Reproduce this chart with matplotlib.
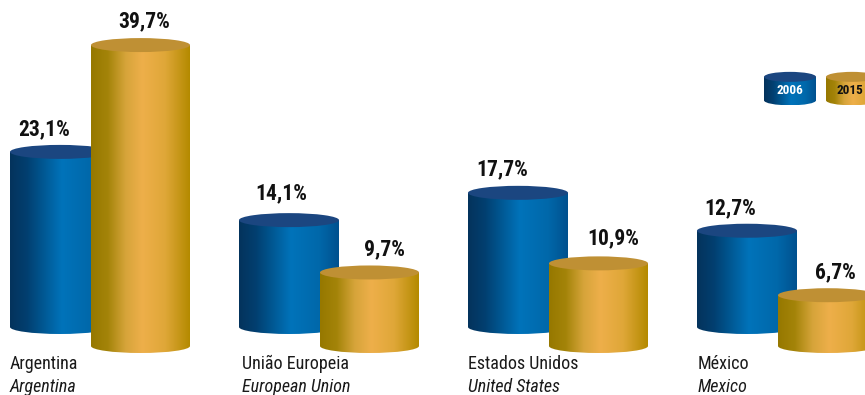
import matplotlib
matplotlib.use('Agg')
import matplotlib.pyplot as plt
import numpy as np
from matplotlib.colors import LinearSegmentedColormap
from matplotlib.patches import Ellipse, PathPatch
from matplotlib.path import Path

plt.rcParams['font.family'] = ['Roboto Condensed', 'Liberation Sans', 'DejaVu Sans']

names_pt = ['Argentina', 'União Europeia', 'Estados Unidos', 'México']
names_en = ['Argentina', 'European Union', 'United States', 'Mexico']
values_2006 = [23.1, 14.1, 17.7, 12.7]
values_2015 = [39.7, 9.7, 10.9, 6.7]
legend_years = ['2006', '2015']

PX_PER_UNIT = 7.58
BASE_PX = 327
group_x = [10, 239, 468, 697]
name_x = [10, 242, 468, 698]
label_dx_blue = [-16, -8, -16, -17]
label_dx_gold = [4, 15, 15, 8]
label_dy_blue = [3.0, 3.5, 3.15, 2.9]
label_dy_gold = [3.15, 3.0, 3.3, 3.0]

blue_cmap = LinearSegmentedColormap.from_list('blue', [
    (0, '#04335c'), (0.17, '#023f70'), (0.35, '#005a96'), (0.52, '#0073ba'),
    (0.8, '#0068aa'), (1, '#00518f')])
gold_cmap = LinearSegmentedColormap.from_list('gold', [
    (0, '#967800'), (0.17, '#a48409'), (0.35, '#d6a43a'), (0.52, '#eeaf4a'),
    (0.75, '#dfa738'), (1, '#b48a00')])
BLUE_TOP = '#1b4680'
GOLD_TOP = '#bf9034'


def cylinder(ax, x, width, y0, y1, ry, cmap, top_color, z):
    # body plus rounded bottom, filled with a horizontal gradient
    rx = width / 2
    cx = x + rx
    k = 0.5523
    verts = [(x, y1), (x, y0),
             (x, y0 - k * ry), (cx - k * rx, y0 - ry), (cx, y0 - ry),
             (cx + k * rx, y0 - ry), (x + width, y0 - k * ry), (x + width, y0),
             (x + width, y1), (x, y1)]
    codes = [Path.MOVETO, Path.LINETO,
             Path.CURVE4, Path.CURVE4, Path.CURVE4,
             Path.CURVE4, Path.CURVE4, Path.CURVE4,
             Path.LINETO, Path.CLOSEPOLY]
    patch = PathPatch(Path(verts, codes), facecolor='none', edgecolor='none', zorder=z)
    ax.add_patch(patch)
    grad = np.linspace(0, 1, 256).reshape(1, -1)
    im = ax.imshow(grad, cmap=cmap, extent=(x, x + width, y0 - ry, y1), aspect='auto', zorder=z)
    im.set_clip_path(patch)
    ax.add_patch(Ellipse((cx, y1), width, 2 * ry, facecolor=top_color, edgecolor='none', zorder=z + 0.1))


fig = plt.figure(figsize=(8.65, 3.95), dpi=100)
ax = fig.add_axes([0, 0, 1, 1])

ry = 7 / PX_PER_UNIT
gold_base = -19 / PX_PER_UNIT
for i in range(len(names_pt)):
    x = group_x[i]
    cylinder(ax, x, 100, 0, values_2006[i], ry, blue_cmap, BLUE_TOP, 2 + i)
    cylinder(ax, x + 81, 99, gold_base, values_2015[i] + gold_base, ry, gold_cmap, GOLD_TOP, 2.5 + i)

    ax.text(x + 50 + label_dx_blue[i], values_2006[i] + label_dy_blue[i], f'{values_2006[i]}%'.replace('.', ','),
            ha='center', va='center', fontsize=15.5, fontweight='bold', color='#111111', zorder=10)
    ax.text(x + 130.5 + label_dx_gold[i], values_2015[i] + gold_base + label_dy_gold[i], f'{values_2015[i]}%'.replace('.', ','),
            ha='center', va='center', fontsize=15.5, fontweight='bold', color='#111111', zorder=10)

    ax.text(name_x[i], -4.9, names_pt[i], ha='left', va='center', fontsize=13, color='#1a1a1a', zorder=10)
    ax.text(name_x[i], -7.9, names_en[i], ha='left', va='center', fontsize=13, style='italic', color='#1a1a1a', zorder=10)

# legend
leg_y0 = 29.9
leg_y1 = 33.0
leg_ry = 5 / PX_PER_UNIT
cylinder(ax, 764, 52, leg_y0, leg_y1, leg_ry, blue_cmap, BLUE_TOP, 20)
cylinder(ax, 826, 52, leg_y0, leg_y1, leg_ry, gold_cmap, GOLD_TOP, 20)
ax.text(790, 31.2, legend_years[0], ha='center', va='center', fontsize=9.5, fontweight='bold', color='white', zorder=25)
ax.text(850, 31.2, legend_years[1], ha='center', va='center', fontsize=9.5, fontweight='bold', color='#111111', zorder=25)

ax.set_xlim(0, 865)
ax.set_ylim((BASE_PX - 395) / PX_PER_UNIT, BASE_PX / PX_PER_UNIT)
ax.axis('off')

fig.savefig('out.png', dpi=100)
